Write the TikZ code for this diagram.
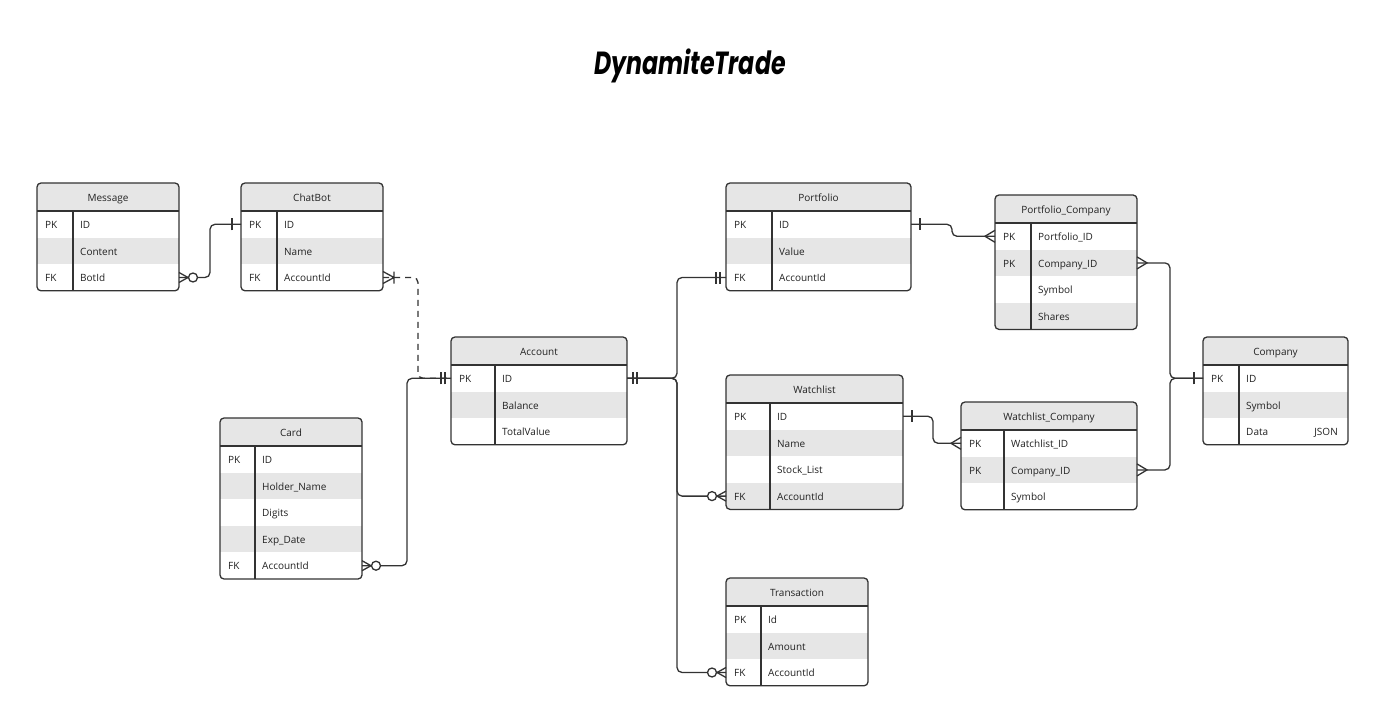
\documentclass[tikz,border=0pt]{standalone}
\usepackage{fontspec}
\setmainfont{Open Sans}
\newfontfamily\titlefont[FakeStretch=0.74]{Poppins}
\usepackage{tikz}
\usetikzlibrary{calc}
\definecolor{erline}{HTML}{333333}
\definecolor{erfill}{HTML}{E6E6E6}
\definecolor{ertext}{HTML}{222222}

\tikzset{
  tbl/.style={draw=erline, line width=1.3pt},
  conn/.style={draw=erline, line width=1.3pt, rounded corners=5pt},
  hdrtxt/.style={font=\fontsize{10}{12}\selectfont, text=ertext, text height=10pt, text depth=1.5pt, inner sep=0pt},
  celltxt/.style={hdrtxt, anchor=west},
  one/.pic={\draw[tbl] (9,-6) -- (9,6);},
  onlyone/.pic={\draw[tbl] (6,-6) -- (6,6) (10,-6) -- (10,6);},
  many/.pic={\draw[tbl] (0,-6) -- (10,0) -- (0,6);},
  zeromany/.pic={\draw[tbl] (0,-5) -- (9,0) -- (0,5); \draw[tbl, fill=white] (14,0) circle[radius=4.5pt];},
  onemany/.pic={\draw[tbl] (0,-6) -- (11,0) -- (0,6) (11,-6) -- (11,6);}
}

% #1 name, #2 left, #3 top, #4 width, #5 key column, #6 title, #7 rows
\newcommand{\entity}[7]{%
  \foreach \k/\f [count=\n] in {#7} {\xdef\nrows{\n}}
  \pgfmathsetmacro\boxh{28+26.6*\nrows}
  \begin{scope}
    \clip[rounded corners=4pt] (#2,#3) rectangle ++(#4,\boxh);
    \fill[erfill] (#2,#3) rectangle ++(#4,28);
    \foreach \k/\f [count=\i] in {#7} {
      \ifodd\i\else
        \fill[erfill] (#2,{#3+28+26.6*(\i-1)}) rectangle ++(#4,26.6);
      \fi}
  \end{scope}
  \draw[tbl] (#2,#3+28) -- ++(#4,0);
  \draw[tbl] (#2+#5,#3+28) -- ++(0,\boxh-28);
  \draw[tbl, rounded corners=4pt] (#2,#3) rectangle ++(#4,\boxh);
  \node[hdrtxt] (#1) at (#2+#4/2,#3+14) {#6};
  \foreach \k/\f [count=\i] in {#7} {
    \pgfmathsetmacro\ry{#3+28+26.6*(\i-0.5)}
    \node[celltxt] (#1-k\i) at (#2+8,\ry) {\k};
    \node[celltxt] (#1-\i) at (#2+#5+7,\ry) {\f};
    \coordinate (#1-\i-l) at (#2,\ry);
    \coordinate (#1-\i-r) at (#2+#4,\ry);
  }
}

\begin{document}
\begin{tikzpicture}[x=1pt, y=-1pt]
\fill[white] (0,0) rectangle (1384,722);
\useasboundingbox (0,0) rectangle (1384,722);

\node[font={\titlefont\fontsize{32}{36}\selectfont\bfseries\itshape}, anchor=base] (title) at (690,75) {DynamiteTrade};

\entity{msg}{37}{183}{142}{36}{Message}{PK/ID, /Content, FK/BotId}
\entity{bot}{241}{183}{142}{36}{ChatBot}{PK/ID, /Name, FK/AccountId}
\entity{acc}{451}{337}{176}{44}{Account}{PK/ID, /Balance, /TotalValue}
\entity{card}{220}{418}{142}{35}{Card}{PK/ID, /Holder\_Name, /Digits, /Exp\_Date, FK/AccountId}
\entity{pf}{726}{183}{185}{46}{Portfolio}{PK/ID, /Value, FK/AccountId}
\entity{pc}{995}{195}{142}{36}{Portfolio\_Company}{PK/Portfolio\_ID, PK/Company\_ID, /Symbol, /Shares}
\entity{co}{1203}{337}{145}{36}{Company}{PK/ID, /Symbol, /Data}
\entity{wl}{726}{375}{177}{44}{Watchlist}{PK/ID, /Name, /Stock\_List, FK/AccountId}
\entity{wc}{961}{402}{176}{43}{Watchlist\_Company}{PK/Watchlist\_ID, PK/Company\_ID, /Symbol}
\entity{tr}{726}{578}{142}{35}{Transaction}{PK/Id, /Amount, FK/AccountId}
\node[celltxt, anchor=east] (co-json) at ($(co-3-r)+(-10,0)$) {JSON};

\draw[conn] (msg-3-r) -- ++(31,0) |- (bot-1-l);
\draw[conn, dash pattern=on 6pt off 5pt] (bot-3-r) -- ++(35,0) |- (acc-1-l);
\draw[conn] (card-5-r) -- ++(45,0) |- (acc-1-l);
\draw[conn] (acc-1-r) -- ++(50,0) |- (pf-3-l);
\draw[conn] (acc-1-r) -- ++(50,0) |- (wl-4-l);
\draw[conn] (acc-1-r) -- ++(50,0) |- (tr-3-l);
\draw[conn] (pf-1-r) -- ++(41,0) |- (pc-1-l);
\draw[conn] (wl-1-r) -- ++(30,0) |- (wc-1-l);
\draw[conn] (pc-2-r) -- ++(33,0) |- (co-1-l);
\draw[conn] (wc-2-r) -- ++(33,0) |- (co-1-l);

\pic at (msg-3-r) {zeromany};
\pic[rotate=180] at (bot-1-l) {one};
\pic at (bot-3-r) {onemany};
\pic[rotate=180] at (acc-1-l) {onlyone};
\pic at (card-5-r) {zeromany};
\pic at (acc-1-r) {onlyone};
\pic[rotate=180] at (pf-3-l) {onlyone};
\pic[rotate=180] at (wl-4-l) {zeromany};
\pic[rotate=180] at (tr-3-l) {zeromany};
\pic at (pf-1-r) {one};
\pic[rotate=180] at (pc-1-l) {many};
\pic at (pc-2-r) {many};
\pic at (wc-2-r) {many};
\pic[rotate=180] at (co-1-l) {one};
\pic at (wl-1-r) {one};
\pic[rotate=180] at (wc-1-l) {many};
\end{tikzpicture}
\end{document}
